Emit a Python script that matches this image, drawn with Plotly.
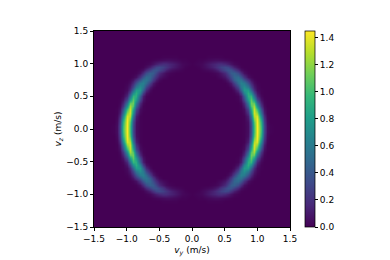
"""Velocity distribution heatmap: crescent in the vy-vz plane"""
import numpy as np
import plotly.graph_objects as go

# upper right quadrant, vy 0.00..1.25 and vz 0.00..1.10, step 0.05
QUADRANT = [
    [0, 0, 0, 0, 0, 0, 0, 0, 0, 0, 0, 0, 0, 0, 0, 0, .01, .05, .33, 1.00, 1.45, 1.00, .33, .05, .01, 0],
    [0, 0, 0, 0, 0, 0, 0, 0, 0, 0, 0, 0, 0, 0, 0, 0, .01, .05, .33, 1.00, 1.45, .98, .33, .05, .01, 0],
    [0, 0, 0, 0, 0, 0, 0, 0, 0, 0, 0, 0, 0, 0, 0, 0, .01, .06, .37, 1.06, 1.44, .92, .28, .04, 0, 0],
    [0, 0, 0, 0, 0, 0, 0, 0, 0, 0, 0, 0, 0, 0, 0, 0, .01, .09, .45, 1.17, 1.42, .83, .24, .03, 0, 0],
    [0, 0, 0, 0, 0, 0, 0, 0, 0, 0, 0, 0, 0, 0, 0, 0, .01, .12, .56, 1.29, 1.36, .69, .18, .02, 0, 0],
    [0, 0, 0, 0, 0, 0, 0, 0, 0, 0, 0, 0, 0, 0, 0, 0, .03, .20, .72, 1.35, 1.20, .53, .12, .01, 0, 0],
    [0, 0, 0, 0, 0, 0, 0, 0, 0, 0, 0, 0, 0, 0, 0, .01, .05, .31, .87, 1.33, .98, .38, .07, .01, 0, 0],
    [0, 0, 0, 0, 0, 0, 0, 0, 0, 0, 0, 0, 0, 0, 0, .01, .11, .46, 1.05, 1.24, .73, .23, .04, 0, 0, 0],
    [0, 0, 0, 0, 0, 0, 0, 0, 0, 0, 0, 0, 0, 0, 0, .03, .17, .60, 1.12, 1.08, .53, .15, .02, 0, 0, 0],
    [0, 0, 0, 0, 0, 0, 0, 0, 0, 0, 0, 0, 0, 0, .01, .07, .31, .78, 1.08, .81, .34, .08, .01, 0, 0, 0],
    [0, 0, 0, 0, 0, 0, 0, 0, 0, 0, 0, 0, 0, 0, .02, .12, .44, .90, .95, .53, .16, .03, 0, 0, 0, 0],
    [0, 0, 0, 0, 0, 0, 0, 0, 0, 0, 0, 0, 0, .01, .07, .27, .65, .90, .72, .33, .09, .01, 0, 0, 0, 0],
    [0, 0, 0, 0, 0, 0, 0, 0, 0, 0, 0, 0, 0, .04, .17, .46, .78, .80, .48, .18, .04, .01, 0, 0, 0, 0],
    [0, 0, 0, 0, 0, 0, 0, 0, 0, 0, 0, 0, .03, .11, .31, .58, .72, .58, .31, .11, .03, 0, 0, 0, 0, 0],
    [0, 0, 0, 0, 0, 0, 0, 0, 0, 0, 0, .03, .10, .27, .49, .64, .59, .37, .17, .05, .01, 0, 0, 0, 0, 0],
    [0, 0, 0, 0, 0, 0, 0, 0, 0, 0, .03, .10, .24, .42, .56, .54, .39, .21, .08, .02, 0, 0, 0, 0, 0, 0],
    [0, 0, 0, 0, 0, 0, 0, 0, .02, .04, .09, .19, .33, .47, .50, .38, .21, .06, .02, 0, 0, 0, 0, 0, 0, 0],
    [0, 0, 0, 0, 0, 0, .01, .02, .04, .09, .17, .30, .42, .44, .34, .18, .06, .01, 0, 0, 0, 0, 0, 0, 0, 0],
    [0, 0, 0, .01, .02, .03, .05, .08, .13, .22, .31, .38, .37, .28, .16, .06, .02, 0, 0, 0, 0, 0, 0, 0, 0, 0],
    [0, 0, .01, .03, .05, .08, .12, .16, .22, .28, .32, .30, .21, .12, .05, .01, 0, 0, 0, 0, 0, 0, 0, 0, 0, 0],
    [0, .01, .02, .03, .06, .09, .13, .15, .18, .19, .16, .12, .07, .03, .01, 0, 0, 0, 0, 0, 0, 0, 0, 0, 0, 0],
    [0, 0, .01, .01, .02, .03, .04, .05, .05, .04, .03, .02, .01, 0, 0, 0, 0, 0, 0, 0, 0, 0, 0, 0, 0, 0],
    [0, 0, 0, 0, 0, .01, .01, .01, .01, .01, 0, 0, 0, 0, 0, 0, 0, 0, 0, 0, 0, 0, 0, 0, 0, 0],
]
AXIS_TICKS = [-1.5, -1.0, -0.5, 0.0, 0.5, 1.0, 1.5]
COLORBAR_TICKS = [0.0, 0.2, 0.4, 0.6, 0.8, 1.0, 1.2, 1.4]

# the crescent is symmetric, mirror the quadrant and fill the rest of the square with zeros
quad = np.array(QUADRANT)
quad = np.pad(quad, ((0, 30 - quad.shape[0] + 1), (0, 30 - quad.shape[1] + 1)))
right = np.vstack([quad[:0:-1], quad])
z = np.hstack([right[:, :0:-1], right])
v = np.arange(-30, 31) * 0.05

FONT = "DejaVu Sans"
W, H = 390, 260
# the page body has an 8px margin, so margins are measured from there
BODY = 8

fig = go.Figure()
fig.add_trace(go.Heatmap(
    x=v,
    y=v,
    z=z,
    zmin=0,
    zmax=1.45,
    zsmooth="best",
    colorscale="Viridis",
    hoverinfo="skip",
    colorbar=dict(
        x=(305 - 94) / 196,
        xanchor="left",
        xref="paper",
        y=0,
        yanchor="bottom",
        yref="paper",
        len=1,
        lenmode="fraction",
        thickness=10,
        thicknessmode="pixels",
        outlinecolor="black",
        outlinewidth=0.72,
        xpad=0,
        ypad=0,
        tickmode="array",
        tickvals=COLORBAR_TICKS,
        tickformat=".1f",
        ticks="outside",
        ticklen=3.2,
        tickwidth=0.72,
        tickcolor="black",
        tickfont=dict(size=9, color="black", family=FONT),
    ),
))

axis_style = dict(
    range=[-1.5, 1.5],
    tickmode="array",
    tickvals=AXIS_TICKS,
    tickformat=".1f",
    ticks="outside",
    ticklen=3.2,
    tickwidth=0.72,
    tickcolor="black",
    tickfont=dict(size=9, color="black", family=FONT),
    showgrid=False,
    zeroline=False,
    showline=True,
    linecolor="black",
    linewidth=0.72,
    mirror=True,
)

fig.update_layout(
    width=W,
    height=H,
    autosize=False,
    margin=dict(l=94 - BODY, r=W - 290 + BODY, t=31 - BODY, b=H - 227 + BODY),
    paper_bgcolor="white",
    plot_bgcolor="white",
    font=dict(family=FONT, size=9, color="black"),
    xaxis=dict(
        axis_style,
        title=dict(text="<i>v</i><sub><i>y</i></sub> (m/s)", font=dict(size=9), standoff=3),
    ),
    yaxis=dict(
        axis_style,
        title=dict(text="<i>v</i><sub><i>z</i></sub> (m/s)", font=dict(size=9), standoff=3),
    ),
)

fig.write_html("out.html")
